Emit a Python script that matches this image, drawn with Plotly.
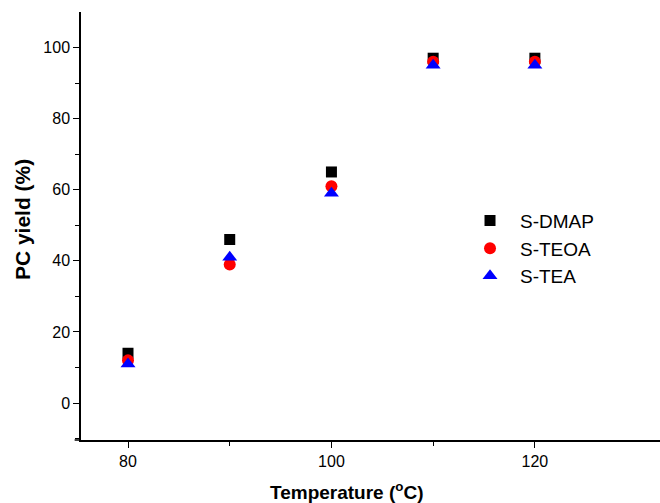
import plotly.graph_objects as go

# Reaction temperature (°C) and PC yield (%) for each catalyst
temperature = [80, 90, 100, 110, 120]
yield_dmap = [14, 46, 65, 97, 97]
yield_teoa = [12, 39, 61, 96, 96]
yield_tea = [11, 41, 59, 95, 95]

series = [
    ("S-DMAP", yield_dmap, "square", "black", 11),
    ("S-TEOA", yield_teoa, "circle", "red", 12),
    ("S-TEA", yield_tea, "triangle-up", "blue", 13),
]

fig = go.Figure()
for name, vals, sym, col, sz in series:
    fig.add_trace(go.Scatter(
        x=temperature, y=vals, mode="markers", name=name,
        marker=dict(symbol=sym, color=col, size=sz, line=dict(width=0)),
    ))

font = "Liberation Sans, Arial, sans-serif"
tick_style = dict(ticks="outside", ticklen=6, tickwidth=1.3, tickcolor="black")
minor_style = dict(ticks="outside", ticklen=4, tickwidth=1.3, tickcolor="black")

fig.update_layout(
    width=660, height=503,
    margin=dict(l=81, r=0, t=12, b=63),
    paper_bgcolor="white", plot_bgcolor="white",
    font=dict(family=font, size=16, color="black"),
    showlegend=True,
    legend=dict(
        x=0.6546, y=0.557, xanchor="left", yanchor="top",
        font=dict(size=19, color="black"),
        bgcolor="rgba(0,0,0,0)", tracegroupgap=0,
        itemwidth=50,
    ),
    xaxis=dict(
        range=[75.38, 132.3],
        tickvals=[80, 100, 120],
        minor=dict(tickvals=[90, 110], **minor_style),
        showline=True, linecolor="black", linewidth=1.5,
        showgrid=False, zeroline=False,
        tickfont=dict(size=16),
        **tick_style,
    ),
    yaxis=dict(
        range=[-10.4, 110],
        tickvals=[0, 20, 40, 60, 80, 100],
        minor=dict(tickvals=[-10, 10, 30, 50, 70, 90], **minor_style),
        showline=True, linecolor="black", linewidth=1.5,
        showgrid=False, zeroline=False,
        tickfont=dict(size=16),
        **tick_style,
    ),
)

# axis titles
fig.add_annotation(
    text="<b>Temperature (<sup>o</sup>C)</b>", font=dict(size=19),
    xref="paper", yref="paper", x=0.4577, y=-0.118,
    xanchor="center", yanchor="middle", showarrow=False,
)
fig.add_annotation(
    text="<b>PC yield (%)</b>", font=dict(size=21), textangle=-90,
    xref="paper", yref="paper", x=-0.101, y=0.515,
    xanchor="center", yanchor="middle", showarrow=False,
)

# short overhang of the bottom axis line to the left of the y axis
fig.add_shape(type="line", xref="paper", yref="paper", x0=-0.011, x1=0, y0=0, y1=0,
              line=dict(color="black", width=1.5))

fig.write_html("out.html")
